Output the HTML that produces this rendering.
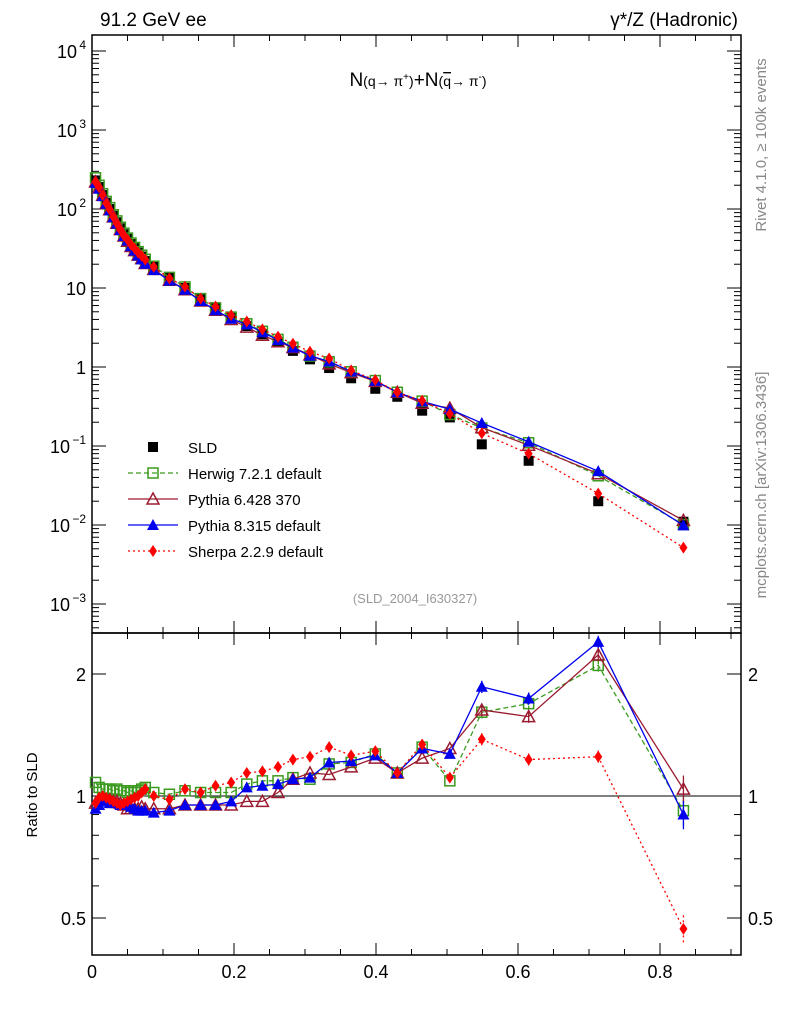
<!DOCTYPE html>
<html><head><meta charset="utf-8"><style>
body{margin:0;background:#fff;}
svg{display:block;font-family:"Liberation Sans",Arial,sans-serif;}
</style></head><body>
<svg id="c" width="786" height="1024" xmlns="http://www.w3.org/2000/svg"></svg>
<script>
const xVals=[0.005,0.01,0.015,0.02,0.025,0.03,0.035,0.04,0.045,0.05,0.055,0.06,0.065,0.07,0.075,0.087,0.109,0.131,0.153,0.174,0.196,0.218,0.24,0.262,0.283,0.307,0.334,0.365,0.399,0.43,0.465,0.504,0.549,0.615,0.713,0.833];
const sldVals=[230,190,150,120,100,82,68,57,48,42,36,32,28,25,22,18.5,13.5,10,7.2,5.5,4.2,3.3,2.6,2.05,1.6,1.25,0.97,0.72,0.53,0.42,0.28,0.23,0.105,0.065,0.020,0.011];
const herwigRatio=[1.08,1.05,1.04,1.04,1.04,1.03,1.04,1.03,1.03,1.02,1.03,1.02,1.03,1.04,1.05,1.02,1.01,1.03,1.02,1.02,1.02,1.07,1.09,1.09,1.11,1.1,1.2,1.21,1.27,1.14,1.32,1.09,1.61,1.69,2.1,0.92];
const py6Ratio=[0.96,0.98,0.99,0.98,0.98,0.97,0.97,0.96,0.95,0.93,0.93,0.93,0.93,0.94,0.93,0.93,0.93,0.95,0.95,0.95,0.95,0.97,0.97,1.02,1.1,1.14,1.13,1.18,1.24,1.14,1.24,1.31,1.63,1.57,2.23,1.04];
const py8Ratio=[0.93,0.95,0.97,0.97,0.96,0.96,0.96,0.95,0.95,0.95,0.94,0.93,0.92,0.92,0.92,0.91,0.92,0.95,0.95,0.95,0.97,1.05,1.06,1.07,1.1,1.11,1.21,1.22,1.26,1.14,1.31,1.27,1.86,1.74,2.4,0.9];
const sherpaRatio=[0.96,0.99,1.0,0.99,0.98,0.97,0.96,0.95,0.96,0.97,0.98,0.99,1.0,1.02,1.04,1.0,0.98,1.04,1.02,1.06,1.08,1.14,1.15,1.18,1.23,1.25,1.32,1.26,1.29,1.14,1.34,1.11,1.38,1.23,1.25,0.47];
const xTicks=[0,0.2,0.4,0.6,0.8];
const xTickLabels=["0","0.2","0.4","0.6","0.8"];

const S=document.getElementById('c');const NS="http://www.w3.org/2000/svg";
function el(t,a,p){const e=document.createElementNS(NS,t);for(const k in a)e.setAttribute(k,a[k]);(p||S).appendChild(e);return e;}
const L=92,R=741,T=35,M=633,B=955;
const X=v=>L+v*710;
const Y=v=>367-79*Math.log10(v);
const YR=v=>796-122*Math.log2(v);

let f=el('rect',{x:L,y:T,width:R-L,height:M-T,fill:'none',stroke:'#000','stroke-width':1.5});

f=el('rect',{x:L,y:M,width:R-L,height:B-M,fill:'none',stroke:'#000','stroke-width':1.5});

let ln=el('line',{x1:L,x2:R,y1:YR(1),y2:YR(1),stroke:'#000','stroke-width':1});


for(let v=0;v<=0.91;v+=0.05){const x=X(v);const maj=Math.abs(v/0.2-Math.round(v/0.2))<1e-6;const len=maj?12:6;
 for(const [y0,d] of [[T,1],[M,-1],[M,1],[B,-1]]) el('line',{x1:x,x2:x,y1:y0,y2:y0+d*len,stroke:'#000','stroke-width':1});}
xTicks.forEach((v,i)=>{const t=el('text',{x:X(v),y:978,'text-anchor':'middle','font-size':18});t.textContent=xTickLabels[i];
 });
for(let e=-4;e<=4;e++){for(let m=1;m<10;m++){const v=m*Math.pow(10,e);const y=Y(v);if(y<T||y>M)continue;const len=m==1?14:7;
 el('line',{x1:L,x2:L+len,y1:y,y2:y,stroke:'#000','stroke-width':1});el('line',{x1:R,x2:R-len,y1:y,y2:y,stroke:'#000','stroke-width':1});}}
const yLab=[[4,"10","4"],[3,"10","3"],[2,"10","2"],[1,"10",""],[0,"1",""],[-1,"10","−1"],[-2,"10","−2"],[-3,"10","−3"]];
yLab.forEach(([e,b,s])=>{const t=el('text',{x:s?84-s.length*7:86,y:Y(Math.pow(10,e))+7,'text-anchor':'end','font-size':18});t.textContent=b;
 
 if(s){const u=el('text',{x:86,y:Y(Math.pow(10,e))-2,'text-anchor':'end','font-size':12});u.textContent=s;}});
[0.5,0.6,0.7,0.8,0.9,1,2].forEach(v=>{const y=YR(v);const maj=(v==0.5||v==1||v==2);const len=maj?14:7;
 el('line',{x1:L,x2:L+len,y1:y,y2:y,stroke:'#000'});el('line',{x1:R,x2:R-len,y1:y,y2:y,stroke:'#000'});
 if(maj){const s=v==1?"1":String(v);let t=el('text',{x:86,y:y+7,'text-anchor':'end','font-size':18});t.textContent=s;
 
 t=el('text',{x:748,y:y+7,'font-size':18});t.textContent=s;}});

function marker(g,type,x,y,c){
 if(type=='sq')el('rect',{x:x-5,y:y-5,width:10,height:10,fill:'#000'},g);
 else if(type=='osq')el('rect',{x:x-5,y:y-5,width:10,height:10,fill:'none',stroke:c,'stroke-width':1.5},g);
 else if(type=='otri')el('polygon',{points:`${x},${y-6} ${x-6},${y+5} ${x+6},${y+5}`,fill:'none',stroke:c,'stroke-width':1.5},g);
 else if(type=='tri')el('polygon',{points:`${x},${y-6} ${x-6},${y+5} ${x+6},${y+5}`,fill:c},g);
 else if(type=='dia')el('polygon',{points:`${x},${y-6} ${x-4},${y} ${x},${y+6} ${x+4},${y}`,fill:c},g);
}
const series=[
 {name:'herwig',r:herwigRatio,c:'#3a9a1e',m:'osq',dash:'5,3'},
 {name:'pythia6',r:py6Ratio,c:'#9b1b30',m:'otri',dash:''},
 {name:'pythia8',r:py8Ratio,c:'#0000ee',m:'tri',dash:''},
 {name:'sherpa',r:sherpaRatio,c:'#ff0000',m:'dia',dash:'2,3'}];
let g=el('g',{});
xVals.forEach((x,i)=>marker(g,'sq',X(x),Y(sldVals[i])));
series.forEach(s=>{
 const gm=el('g',{});
 const pts=xVals.map((x,i)=>X(x)+','+Y(sldVals[i]*s.r[i])).join(' ');
 el('polyline',{points:pts,fill:'none',stroke:s.c,'stroke-width':1.3,'stroke-dasharray':s.dash},gm);
 xVals.forEach((x,i)=>marker(gm,s.m,X(x),Y(sldVals[i]*s.r[i]),s.c));
 const gr=el('g',{});
 const pr=xVals.map((x,i)=>X(x)+','+YR(s.r[i])).join(' ');
 el('polyline',{points:pr,fill:'none',stroke:s.c,'stroke-width':1.3,'stroke-dasharray':s.dash},gr);
 const n=xVals.length;
 xVals.forEach((x,i)=>{const y=YR(s.r[i]);if(i>=n-4){const e=i==n-1?0.08:0.035;el('line',{x1:X(x),x2:X(x),y1:YR(s.r[i]*(1+e)),y2:YR(s.r[i]*(1-e)),stroke:s.c,'stroke-width':1.3,'stroke-dasharray':s.dash},gr);}
  marker(gr,s.m,X(x),y,s.c);});
});

const leg=[['SLD','sq','#000',''],['Herwig 7.2.1 default','osq','#3a9a1e','5,3'],['Pythia 6.428 370','otri','#9b1b30',''],['Pythia 8.315 default','tri','#0000ee',''],['Sherpa 2.2.9 default','dia','#ff0000','2,3']];
leg.forEach((l,i)=>{const y=447+i*26;const gl=el('g',{});
 if(i>0)el('line',{x1:128,x2:178,y1:y,y2:y,stroke:l[2],'stroke-width':1.3,'stroke-dasharray':l[3]},gl);
 marker(gl,l[1],153,y,l[2]);const t=el('text',{x:188,y:y+6,'font-size':15},gl);t.textContent=l[0];});

function txt(s,a,name){const t=el('text',a);t.textContent=s;return t;}
txt('91.2 GeV ee',{x:100,y:26,'font-size':19},'energy-label');
txt('γ*/Z (Hadronic)',{x:738,y:26,'font-size':19,'text-anchor':'end'},'process-label');
const tt=el('text',{x:418,y:86,'font-size':19,'text-anchor':'middle'});
tt.innerHTML='N<tspan font-size="14">(q→ π<tspan dy="-6" font-size="10">+</tspan><tspan dy="6">)</tspan></tspan>+N<tspan font-size="14">(<tspan text-decoration="overline">q</tspan>→ π<tspan dy="-6" font-size="10">-</tspan><tspan dy="6">)</tspan></tspan>';
txt('(SLD_2004_I630327)',{x:415,y:603,'font-size':13,'text-anchor':'middle',fill:'#999'},'analysis-id');
txt('Ratio to SLD',{x:0,y:0,'font-size':15,'text-anchor':'middle',transform:'translate(37,795) rotate(-90)'},'ratio-y-axis-title');
txt('Rivet 4.1.0, ≥ 100k events',{x:0,y:0,'font-size':15,'text-anchor':'middle',fill:'#888',transform:'translate(766,145) rotate(-90)'},'rivet-version-label');
txt('mcplots.cern.ch [arXiv:1306.3436]',{x:0,y:0,'font-size':15,'text-anchor':'middle',fill:'#888',transform:'translate(766,485) rotate(-90)'},'mcplots-label');
</script>
</body></html>
